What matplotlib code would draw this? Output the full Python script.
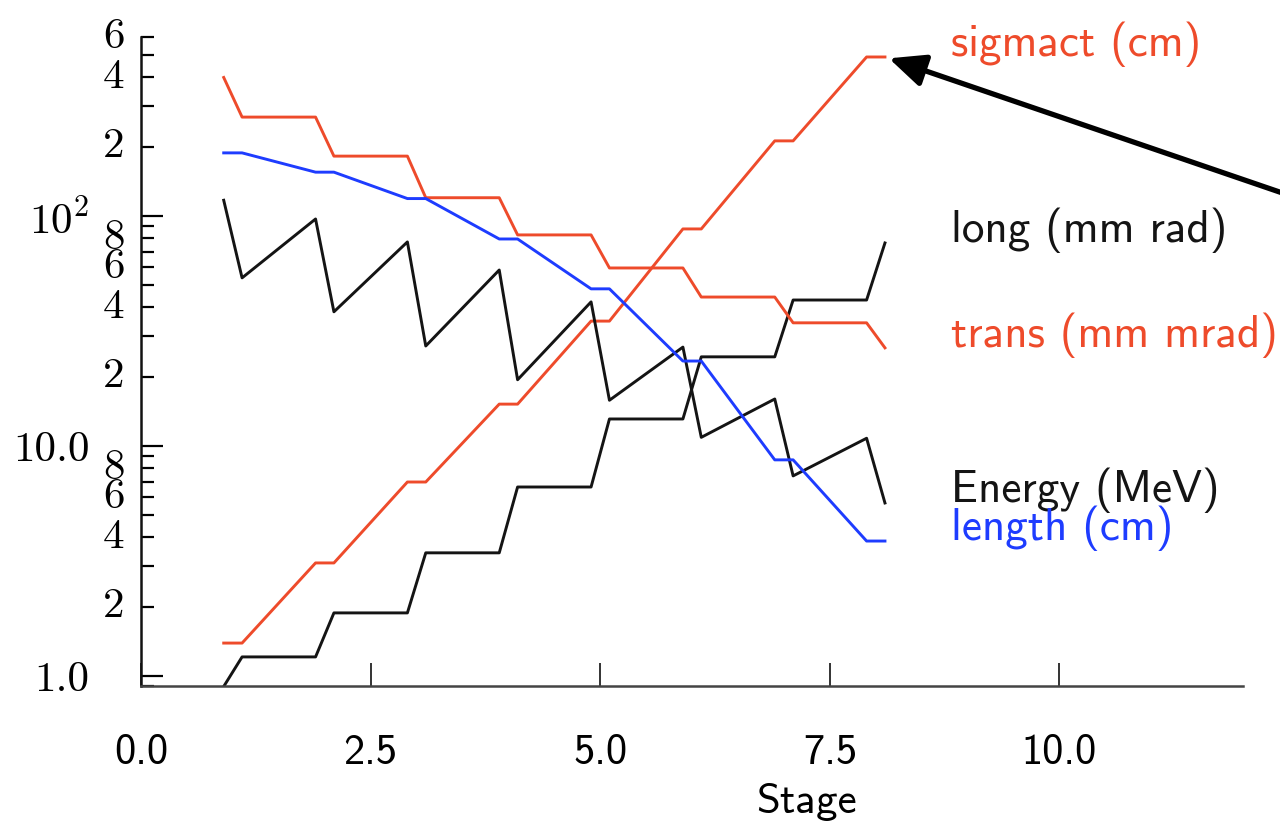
import matplotlib
matplotlib.use('Agg')
import matplotlib.pyplot as plt
from matplotlib.ticker import FixedLocator, FixedFormatter, FormatStrFormatter

# stage positions (entry / exit of each stage)
stage = [0.9, 1.1, 1.9, 2.1, 2.9, 3.1, 3.9, 4.1, 4.9, 5.1, 5.9, 6.1, 6.9, 7.1, 7.9, 8.1]

sigmact = [1.39, 1.39, 3.1, 3.1, 6.97, 6.97, 15.2, 15.2, 34.9, 34.9, 87.8, 87.8, 212, 212, 491, 491]
long_em = [0.9, 1.21, 1.21, 1.88, 1.88, 3.43, 3.43, 6.63, 6.63, 13.1, 13.1, 24.4, 24.4, 43.1, 43.1, 76.3]
trans = [400, 269, 269, 182, 182, 120, 120, 82.7, 82.7, 59.4, 59.4, 44.4, 44.4, 34.3, 34.3, 26.7]
energy = [117, 53.8, 97, 38.3, 77.1, 27.2, 58.2, 19.4, 42.3, 15.8, 26.9, 10.9, 16.0, 7.41, 10.8, 5.65]
length = [188, 188, 155, 155, 119, 119, 79.4, 79.4, 48.2, 48.2, 23.4, 23.4, 8.7, 8.7, 3.86, 3.86]

labels = ['sigmact (cm)', 'long (mm rad)', 'trans (mm mrad)', 'Energy (MeV)', 'length (cm)']

# y ticks
y_major = [1, 10, 100]
y_major_labels = ['1.0', '10.0', r'$10^2$']
y_minor = [0.9, 2, 3, 4, 5, 6, 7, 8, 9, 20, 30, 40, 50, 60, 70, 80, 90, 200, 300, 400, 500, 600]
y_minor_labels = ['', '2', '', '4', '', '6', '', '8', '', '2', '', '4', '', '6', '', '8', '', '2', '', '4', '', '6']

RED = '#ee4b2b'
BLUE = '#1e3cff'
BLACK = '#141414'

plt.rcParams['mathtext.fontset'] = 'cm'

fig = plt.figure(figsize=(12.8, 8.25), dpi=100)
ax = fig.add_axes([0.1102, 0.1679, 0.8610, 0.7873])

series = [sigmact, long_em, trans, energy, length]
colors = [RED, BLACK, RED, BLACK, BLUE]

for vals, col, name in zip(series, colors, labels):
    ax.plot(stage, vals, color=col, lw=2.1)
    # label placed just right of the line end
    ax.annotate(name, xy=(stage[-1], vals[-1]), xytext=(66, 13),
                textcoords='offset pixels', color=col, family='cmss10',
                fontsize=32.5, ha='left', va='center', annotation_clip=False)

ax.set_yscale('log')
ax.set_xlim(0, 12)
ax.set_ylim(0.9, 600)

ax.yaxis.set_major_locator(FixedLocator(y_major))
ax.yaxis.set_major_formatter(FixedFormatter(y_major_labels))
ax.yaxis.set_minor_locator(FixedLocator(y_minor))
ax.yaxis.set_minor_formatter(FixedFormatter(y_minor_labels))

ax.set_xticks([0, 2.5, 5, 7.5, 10])
ax.xaxis.set_major_formatter(FormatStrFormatter('%.1f'))

ax.tick_params(axis='y', which='major', direction='in', length=16, width=1.6,
               pad=37, labelsize=31)
ax.tick_params(axis='y', which='minor', direction='in', length=9.5, width=1.6,
               pad=12, labelsize=31)
ax.tick_params(axis='x', which='major', direction='in', length=16.5, width=1.4,
               pad=34, labelsize=30.5, color='#333333')
ax.tick_params(axis='x', which='minor', bottom=False)

for lab in ax.get_yticklabels() + ax.get_yticklabels(minor=True):
    lab.set_family('cmr10')
for lab in ax.get_yticklabels(minor=True):
    lab.set_va('center')
for lab in ax.get_xticklabels():
    lab.set_family('cmss10')

ax.set_xlabel('Stage', family='cmss10', fontsize=31)
ax.xaxis.set_label_coords(0.604, -0.148)

for side in ['top', 'right']:
    ax.spines[side].set_visible(False)
ax.spines['left'].set_linewidth(1.8)
ax.spines['left'].set_color('#111111')
ax.spines['bottom'].set_linewidth(1.8)
ax.spines['bottom'].set_color('#444444')

# arrow pointing at the end of sigmact
ax.annotate('', xy=(stage[-1], sigmact[-1]), xytext=(1300, 626),
            textcoords='figure pixels', annotation_clip=False,
            arrowprops=dict(arrowstyle='-|>,head_length=1.0,head_width=0.45',
                            mutation_scale=22, lw=3.8, color='black',
                            shrinkA=0, shrinkB=3))

fig.savefig('out.png', dpi=100)
